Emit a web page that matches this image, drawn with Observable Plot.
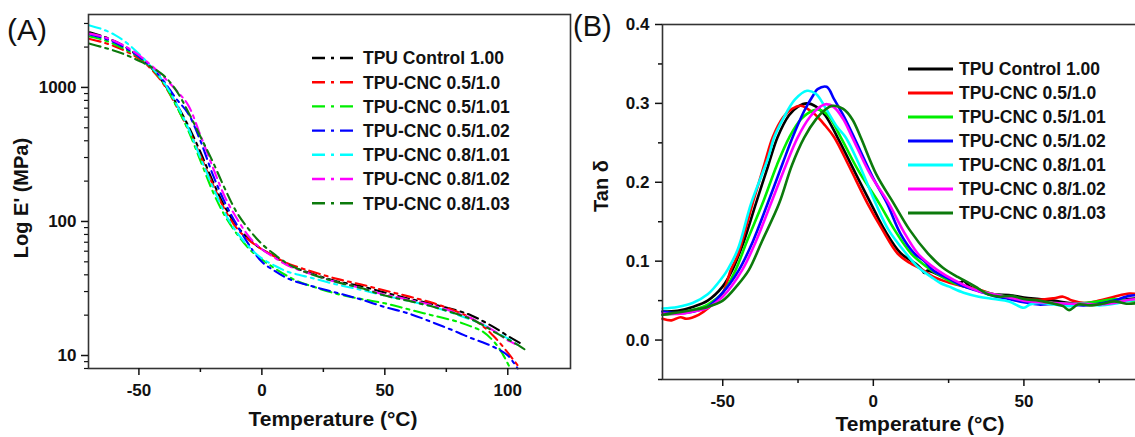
<!DOCTYPE html>
<html>
<head>
<meta charset="utf-8">
<script src="https://cdn.jsdelivr.net/npm/d3@7"></script>
<script src="https://cdn.jsdelivr.net/npm/@observablehq/plot@0.6"></script>
<style>
  html, body { margin: 0; padding: 0; background: #fff; }
  #wrap { position: relative; width: 1135px; height: 437px; overflow: hidden; background: #fff;
          font-family: "Liberation Sans", Arial, sans-serif; }
  #panelA { position: absolute; left: 0; top: 0; width: 575px; height: 437px; }
  #panelB { position: absolute; left: 575px; top: 0; width: 599px; height: 437px; }
  #panelA svg, #panelB svg { max-width: none !important; display: block; }
  #overlay { position: absolute; left: 0; top: 0; pointer-events: none; }
</style>
</head>
<body>
<div id="wrap">
  <div id="panelA"></div>
  <div id="panelB"></div>
  <svg id="overlay" width="1135" height="437"></svg>
</div>
<script>
// ---------- Series names and colours ----------
const seriesNames = [
  "TPU Control 1.00",
  "TPU-CNC 0.5/1.0",
  "TPU-CNC 0.5/1.01",
  "TPU-CNC 0.5/1.02",
  "TPU-CNC 0.8/1.01",
  "TPU-CNC 0.8/1.02",
  "TPU-CNC 0.8/1.03"
];
const seriesColors = ["#000000", "#ff0000", "#00ee00", "#0000ff", "#00ffff", "#ff00ff", "#0c7a0c"];

// ---------- Panel A: storage modulus E' (MPa) vs temperature (°C) ----------
const eControl = [[-70,2580],[-65,2420],[-60,2220],[-55,1980],[-50,1700],[-45,1400],[-40,1080],[-35,770],[-30,520],[-25,330],[-20,200],[-15,128],[-10,92],[-5,73],[0,62],[5,55],[10,48],[15,44],[20,41],[30,36],[40,33],[50,29.5],[60,26.5],[70,24],[80,21.5],[85,20],[90,18],[95,16],[100,14],[105,12.4]];
const eCnc05_10 = [[-70,2300],[-65,2180],[-60,2030],[-55,1850],[-50,1640],[-45,1370],[-40,1060],[-35,740],[-30,490],[-25,310],[-20,190],[-15,122],[-10,88],[-5,72],[0,62],[5,55],[10,49],[15,45.5],[20,42.5],[30,37.5],[40,34],[50,30.5],[60,27.5],[70,24.5],[80,21],[85,19],[90,16.5],[95,13.5],[100,10.5],[105,8]];
const eCnc05_101 = [[-70,2400],[-65,2280],[-60,2100],[-55,1900],[-50,1680],[-45,1400],[-40,1080],[-35,740],[-30,480],[-25,285],[-20,168],[-15,110],[-10,80],[-5,62],[0,52],[5,45],[10,39.5],[15,35.5],[20,33],[30,29],[40,26.5],[50,24.5],[60,22],[70,19.8],[80,17.8],[85,16.5],[90,15],[95,12.3],[98,10.2],[101,8]];
const eCnc05_102 = [[-70,2480],[-65,2350],[-60,2170],[-55,1950],[-50,1700],[-45,1420],[-40,1120],[-35,830],[-30,640],[-25,400],[-20,225],[-15,138],[-10,93],[-5,66],[0,50],[5,43],[10,38],[15,35],[20,33],[30,29.5],[40,26.3],[50,23],[60,20.5],[70,17.5],[80,14.8],[85,13.5],[90,12.5],[95,11.4],[100,10],[104,8]];
const eCnc08_101 = [[-70,2900],[-65,2720],[-60,2480],[-55,2150],[-50,1780],[-45,1430],[-40,1100],[-35,770],[-30,500],[-25,300],[-20,182],[-15,115],[-10,82],[-5,64],[0,53],[5,47],[10,42.5],[15,40],[20,38],[30,34],[40,31],[50,28],[60,25.5],[70,23],[80,20],[85,18.5],[90,17],[95,15],[100,13.4],[104,12]];
const eCnc08_102 = [[-70,2520],[-65,2400],[-60,2220],[-55,2000],[-50,1740],[-45,1460],[-40,1200],[-35,960],[-30,740],[-25,440],[-20,255],[-15,152],[-10,104],[-5,76],[0,62],[5,54],[10,47.5],[15,43.5],[20,40.5],[30,35.5],[40,32],[50,28.5],[60,26],[70,23.5],[80,20.5],[85,19],[90,17],[95,15],[100,13],[103,12.2]];
const eCnc08_103 = [[-70,2120],[-65,2000],[-60,1880],[-55,1740],[-50,1580],[-45,1420],[-40,1230],[-35,960],[-30,660],[-25,430],[-20,280],[-15,175],[-10,115],[-5,86],[0,68],[5,57],[10,49],[15,44],[20,40.5],[30,35.5],[40,32],[50,28],[60,25.5],[70,23],[80,20.2],[85,18.7],[90,16.8],[95,14.8],[100,13.2],[105,11.7],[107.5,10.9]];

const seriesA = [eControl, eCnc05_10, eCnc05_101, eCnc05_102, eCnc08_101, eCnc08_102, eCnc08_103];
const ticksAxMajor = [-50, 0, 50, 100];
const ticksAxMinor = [-25, 25, 75];
const ticksAyMajor = [10, 100, 1000];
const ticksAyMinor = [8, 9, 20, 30, 40, 50, 60, 70, 80, 90, 200, 300, 400, 500, 600, 700, 800, 900, 2000, 3000];

// ---------- Panel B: tan delta vs temperature (°C) ----------
const tControl = [[-70,0.036],[-65,0.037],[-60,0.042],[-55,0.050],[-50,0.068],[-46.8,0.089],[-43,0.125],[-39,0.173],[-35,0.220],[-31.8,0.257],[-28,0.285],[-25,0.296],[-22,0.300],[-19,0.296],[-16,0.285],[-11.9,0.257],[-6,0.212],[-0.8,0.173],[4,0.138],[9.1,0.110],[14,0.097],[16,0.090],[17,0.085],[18,0.088],[22,0.082],[26,0.075],[29,0.073],[30,0.075],[32,0.068],[36,0.062],[40,0.058],[45,0.057],[50,0.054],[55,0.052],[60,0.050],[65,0.047],[70,0.046],[75,0.047],[80,0.050],[85,0.052],[88,0.053]];
const tCnc05_10 = [[-70,0.027],[-67,0.025],[-64,0.029],[-62,0.027],[-58,0.032],[-55,0.040],[-50,0.060],[-47.3,0.089],[-45,0.108],[-40.1,0.173],[-36,0.225],[-33.4,0.257],[-30,0.282],[-27,0.293],[-24,0.297],[-20,0.288],[-16,0.272],[-13,0.257],[-8,0.220],[-1.9,0.173],[3,0.140],[8,0.110],[12,0.098],[16,0.090],[20,0.080],[25,0.073],[30,0.068],[35,0.064],[40,0.058],[45,0.054],[50,0.052],[55,0.051],[60,0.053],[63,0.055],[66,0.050],[70,0.047],[75,0.050],[80,0.055],[85,0.059],[88,0.058]];
const tCnc05_101 = [[-70,0.032],[-65,0.034],[-60,0.038],[-55,0.045],[-50,0.060],[-45.7,0.089],[-42,0.125],[-36.8,0.173],[-32,0.222],[-27.9,0.257],[-24,0.280],[-20,0.291],[-18,0.292],[-15,0.285],[-10.8,0.257],[-5,0.215],[2,0.173],[7,0.140],[12.5,0.110],[17,0.095],[22,0.082],[27,0.072],[32,0.066],[36,0.062],[40,0.058],[45,0.055],[50,0.050],[55,0.048],[60,0.047],[65,0.046],[70,0.047],[75,0.049],[80,0.052],[85,0.050],[88,0.050]];
const tCnc05_102 = [[-70,0.036],[-65,0.034],[-60,0.036],[-55,0.042],[-50,0.060],[-44.6,0.089],[-40,0.125],[-35.1,0.173],[-30,0.225],[-26.8,0.257],[-23,0.290],[-20,0.310],[-18.5,0.318],[-15.5,0.321],[-13,0.305],[-10,0.285],[-6.4,0.257],[0,0.205],[4.6,0.173],[9,0.135],[13.6,0.110],[17,0.100],[20,0.088],[25,0.078],[30,0.068],[35,0.062],[40,0.056],[45,0.052],[50,0.048],[55,0.045],[60,0.046],[65,0.045],[70,0.044],[75,0.046],[80,0.050],[85,0.056],[88,0.057]];
const tCnc08_101 = [[-70,0.040],[-65,0.042],[-60,0.047],[-55,0.058],[-50,0.080],[-48.4,0.089],[-45,0.115],[-40.6,0.173],[-35,0.230],[-32.9,0.257],[-30,0.280],[-26,0.305],[-22,0.316],[-19,0.312],[-16,0.295],[-12,0.270],[-9.2,0.257],[-5,0.225],[0.8,0.173],[5,0.140],[10.8,0.110],[15,0.092],[20,0.078],[22.4,0.072],[25,0.068],[30,0.060],[35,0.055],[40,0.052],[45,0.049],[50,0.041],[52,0.045],[55,0.047],[60,0.045],[65,0.043],[70,0.046],[75,0.044],[80,0.046],[85,0.050],[88,0.051]];
const tCnc08_102 = [[-70,0.034],[-65,0.033],[-60,0.036],[-55,0.041],[-50,0.055],[-43.5,0.089],[-39,0.125],[-34,0.173],[-29,0.222],[-25.1,0.257],[-21,0.283],[-18,0.295],[-15.8,0.299],[-13,0.295],[-10,0.280],[-7,0.257],[-1,0.210],[5.2,0.173],[10,0.138],[14.7,0.110],[19,0.095],[24,0.082],[30,0.070],[35,0.062],[40,0.058],[45,0.054],[50,0.050],[55,0.048],[60,0.047],[65,0.046],[70,0.046],[75,0.045],[80,0.047],[85,0.051],[88,0.052]];
const tCnc08_103 = [[-70,0.032],[-65,0.035],[-60,0.038],[-55,0.042],[-50,0.050],[-45,0.070],[-41.3,0.089],[-37,0.125],[-31.3,0.173],[-27,0.222],[-22.9,0.257],[-19,0.280],[-16,0.292],[-13.6,0.297],[-10,0.293],[-7,0.280],[-4.2,0.257],[1,0.210],[6.8,0.173],[12,0.140],[18.1,0.110],[23,0.092],[28,0.080],[32,0.072],[35,0.065],[38,0.058],[42,0.055],[46,0.056],[50,0.052],[55,0.050],[60,0.046],[63,0.043],[65,0.038],[68,0.045],[72,0.044],[76,0.046],[80,0.049],[84,0.046],[88,0.047]];

const seriesB = [tControl, tCnc05_10, tCnc05_101, tCnc05_102, tCnc08_101, tCnc08_102, tCnc08_103];
const ticksBxMajor = [-50, 0, 50];
const ticksBxMinor = [-25, 25, 75];
const ticksByMajor = [0, 0.1, 0.2, 0.3, 0.4];
const ticksByMinor = [-0.05, 0.05, 0.15, 0.25, 0.35];

// ---------- build tidy tables ----------
const dataA = seriesA.flatMap((arr, i) => arr.map(([T, v]) => ({series: seriesNames[i], T, v})));
const dataB = seriesB.flatMap((arr, i) => arr.map(([T, v]) => ({series: seriesNames[i], T, v})));

const FONT = '"Liberation Sans", Arial, sans-serif';
const baseStyle = {fontFamily: FONT, fontSize: "17px", fontWeight: "bold", color: "#111", background: "transparent", overflow: "visible", maxWidth: "none"};
const colorOpt = {domain: seriesNames, range: seriesColors};
const fmtInt = d => String(d);

const plotA = Plot.plot({
  width: 575, height: 437,
  marginLeft: 88, marginRight: 5, marginTop: 14, marginBottom: 69,
  x: {domain: [-70.5, 125.5], label: null},
  y: {type: "log", domain: [8, 3500], label: null},
  color: colorOpt,
  style: baseStyle,
  marks: [
    Plot.line(dataA, {x: "T", y: "v", stroke: "series", z: "series", strokeWidth: 2.1,
      strokeDasharray: "11,5,3,5", curve: "catmull-rom"}),
    Plot.frame({stroke: "#333", strokeWidth: 1.6}),
    Plot.axisX({ticks: ticksAxMajor, tickSize: 7, tickPadding: 8, tickFormat: fmtInt, label: null, strokeWidth: 1.5}),
    Plot.axisX({ticks: ticksAxMinor, tickSize: 4, tickFormat: () => "", label: null, strokeWidth: 1.5}),
    Plot.axisY({ticks: ticksAyMajor, tickSize: 7, tickPadding: 5, tickFormat: fmtInt, label: null, strokeWidth: 1.5}),
    Plot.axisY({ticks: ticksAyMinor, tickSize: 4, tickFormat: () => "", label: null, strokeWidth: 1.2})
  ]
});
document.getElementById("panelA").appendChild(plotA);

const fmt1 = d3.format(".1f");
const plotB = Plot.plot({
  width: 599, height: 437,
  marginLeft: 87, marginRight: 0, marginTop: 24, marginBottom: 58,
  x: {domain: [-70, 100], label: null},
  y: {domain: [-0.05, 0.4], label: null},
  color: colorOpt,
  style: baseStyle,
  marks: [
    Plot.line(dataB, {x: "T", y: "v", stroke: "series", z: "series", strokeWidth: 2.6, curve: "catmull-rom"}),
    Plot.frame({stroke: "#333", strokeWidth: 1.6}),
    Plot.axisX({ticks: ticksBxMajor, tickSize: 7, tickPadding: 8, tickFormat: fmtInt, label: null, strokeWidth: 1.5}),
    Plot.axisX({ticks: ticksBxMinor, tickSize: 4, tickFormat: () => "", label: null, strokeWidth: 1.5}),
    Plot.axisY({ticks: ticksByMajor, tickSize: 7, tickPadding: 6, tickFormat: fmt1, label: null, strokeWidth: 1.5}),
    Plot.axisY({ticks: ticksByMinor, tickSize: 4, tickFormat: () => "", label: null, strokeWidth: 1.5})
  ]
});
document.getElementById("panelB").appendChild(plotB);

// ---------- overlay: panel tags, axis titles, legends ----------
const ov = d3.select("#overlay").style("font-family", FONT);

ov.append("text").attr("x", 7).attr("y", 40).attr("font-size", 30).attr("fill", "#111").text("(A)");
ov.append("text").attr("x", 573).attr("y", 36).attr("font-size", 29).attr("fill", "#111").text("(B)");

ov.append("text").attr("transform", "translate(28,198) rotate(-90)").attr("text-anchor", "middle")
  .attr("font-size", 20).attr("font-weight", "bold").attr("fill", "#111").text("Log E' (MPa)");
ov.append("text").attr("x", 333).attr("y", 426).attr("text-anchor", "middle")
  .attr("font-size", 21).attr("font-weight", "bold").attr("fill", "#111").text("Temperature (°C)");

ov.append("text").attr("transform", "translate(608,186) rotate(-90)").attr("text-anchor", "middle")
  .attr("font-size", 20).attr("font-weight", "bold").attr("fill", "#111").text("Tan δ");
ov.append("text").attr("x", 920).attr("y", 431).attr("text-anchor", "middle")
  .attr("font-size", 21).attr("font-weight", "bold").attr("fill", "#111").text("Temperature (°C)");

function legend(x0, x1, tx, y0, dy, dash, sw) {
  seriesNames.forEach((name, i) => {
    const y = y0 + i * dy;
    ov.append("line").attr("x1", x0).attr("x2", x1).attr("y1", y).attr("y2", y)
      .attr("stroke", seriesColors[i]).attr("stroke-width", sw)
      .attr("stroke-dasharray", dash);
    ov.append("text").attr("x", tx).attr("y", y).attr("dy", "0.36em")
      .attr("font-size", 17.5).attr("font-weight", "bold").attr("fill", "#111").text(name);
  });
}
legend(312, 357, 363, 58, 24.2, "13,6,3,6", 2.4);
legend(908, 953, 959, 69, 24, null, 3);
</script>
</body>
</html>
